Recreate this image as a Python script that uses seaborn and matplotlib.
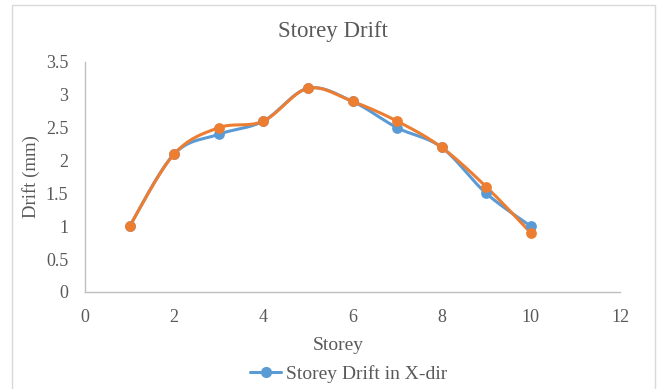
import numpy as np
import pandas as pd
import matplotlib
matplotlib.use("Agg")
import matplotlib.pyplot as plt
import seaborn as sns
from matplotlib.lines import Line2D
from matplotlib.patches import Rectangle

storey = [1, 2, 3, 4, 5, 6, 7, 8, 9, 10]
drift_x = [1.0, 2.1, 2.4, 2.6, 3.1, 2.9, 2.5, 2.2, 1.5, 1.0]
drift_y = [1.0, 2.1, 2.5, 2.6, 3.1, 2.9, 2.6, 2.2, 1.6, 0.9]
x_ticks = [0, 2, 4, 6, 8, 10, 12]
y_ticks = [0, 0.5, 1, 1.5, 2, 2.5, 3, 3.5]
y_labels = ["0", "0.5", "1", "1.5", "2", "2.5", "3", "3.5"]
title = "Storey Drift"
xlabel = "Storey"
ylabel = "Drift (mm)"
legend_label = "Storey Drift in X-dir"

BLUE = "#5B9BD5"
ORANGE = "#ED7D31"
TXT = "#595959"


def smooth(xs, ys, n=30):
    # Excel-style smoothing: cubic Bezier with Catmull-Rom control points
    P = np.column_stack([xs, ys]).astype(float)
    P = np.vstack([P[0], P, P[-1]])
    out = []
    for i in range(1, len(P) - 2):
        p0, p1, p2, p3 = P[i - 1], P[i], P[i + 1], P[i + 2]
        b1 = p1 + (p2 - p0) / 6.0
        b2 = p2 - (p3 - p1) / 6.0
        t = np.linspace(0, 1, n)[:, None]
        seg = ((1 - t) ** 3) * p1 + 3 * ((1 - t) ** 2) * t * b1 + 3 * (1 - t) * t ** 2 * b2 + t ** 3 * p2
        out.append(seg if i == 1 else seg[1:])
    s = np.vstack(out)
    return s[:, 0], s[:, 1]


sns.set_theme(style="white")
plt.rcParams["font.family"] = ["Liberation Serif", "DejaVu Serif"]

W, H = 659, 389
fig = plt.figure(figsize=(6.59, 3.89), dpi=100)
ax = fig.add_axes([85 / W, 1 - 292 / H, (620 - 85) / W, (292 - 62) / H])

# outer chart border
fig.patches.append(Rectangle((12 / W, -0.05), 643 / W, 1 - 5 / H + 0.05,
                             transform=fig.transFigure, fill=False,
                             edgecolor="#d9d9d9", linewidth=1.0))

for ys, col in [(drift_x, BLUE), (drift_y, ORANGE)]:
    sx, sy = smooth(storey, ys)
    df = pd.DataFrame({"xs": sx, "ys": sy})
    sns.lineplot(data=df, x="xs", y="ys", sort=False, estimator=None,
                 color=col, linewidth=2.2, ax=ax)
    sns.scatterplot(x=storey, y=ys, color=col, s=60, edgecolor=col,
                    linewidth=0, ax=ax, zorder=3)

ax.set_xlim(0, 12)
ax.set_ylim(0, 3.5)
ax.set_xticks(x_ticks)
ax.set_xticklabels([str(v) for v in x_ticks])
ax.set_yticks(y_ticks)
ax.set_yticklabels(y_labels)
ax.tick_params(axis="both", length=0, labelsize=13, labelcolor=TXT)
ax.tick_params(axis="x", pad=12)
ax.tick_params(axis="y", pad=12)
for s in ["top", "right"]:
    ax.spines[s].set_visible(False)
for s in ["left", "bottom"]:
    ax.spines[s].set_color("#bfbfbf")
    ax.spines[s].set_linewidth(1.0)
ax.grid(False)
ax.set_xlabel("")
ax.set_ylabel("")

fig.text(338 / W, 1 - 346 / H, xlabel, ha="center", va="center", fontsize=14, color=TXT)
fig.text(31 / W, 1 - 177 / H, ylabel, ha="center", va="center", rotation=90,
         fontsize=13.5, color=TXT)
fig.text(333 / W, 1 - 31 / H, title, ha="center", va="center", fontsize=16.5, color=TXT)

handle = Line2D([0], [0], color=BLUE, linewidth=2.2, marker="o", markersize=7)
fig.legend([handle], [legend_label], loc="center left", bbox_to_anchor=(250 / W, 1 - 374 / H),
           frameon=False, fontsize=14, labelcolor=TXT, handlelength=1.6,
           handletextpad=0.25, borderpad=0, borderaxespad=0)

fig.savefig("out.png", dpi=100)
